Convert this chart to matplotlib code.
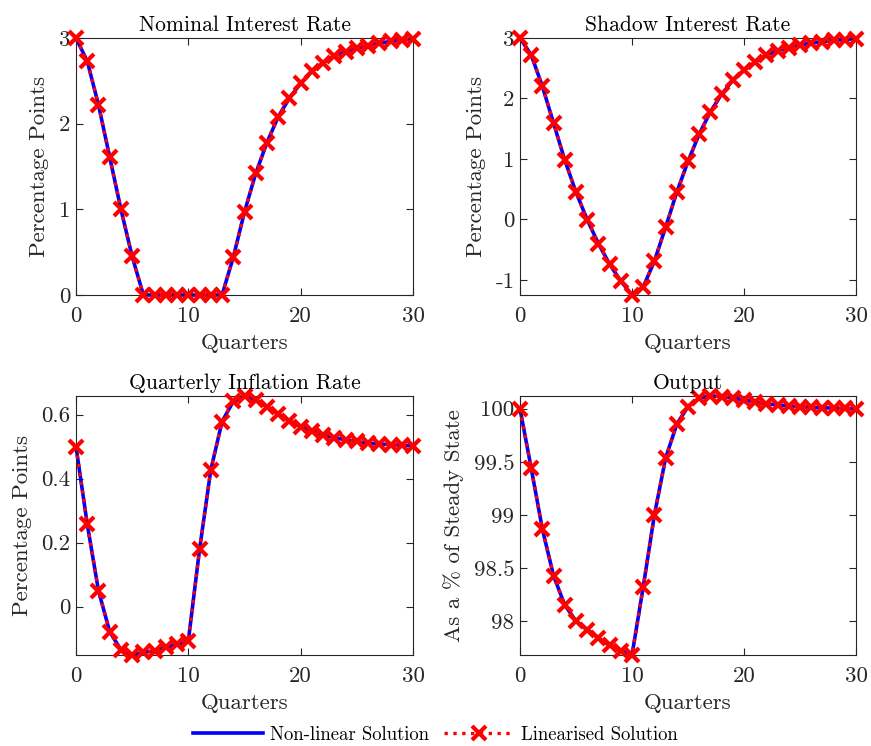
import numpy as np
import matplotlib
matplotlib.use("Agg")
import matplotlib.pyplot as plt

plt.rcParams['font.family'] = 'serif'
plt.rcParams['font.serif'] = ['cmr10', 'DejaVu Serif']
plt.rcParams['mathtext.fontset'] = 'cm'
plt.rcParams['axes.unicode_minus'] = False

quarters = np.arange(31)

# Impulse responses
nominal_rate = [3.00, 2.73, 2.22, 1.61, 1.00, 0.45, 0.0, 0.0, 0.0, 0.0, 0.0,
                0.0, 0.0, 0.0, 0.44, 0.97, 1.42, 1.78, 2.08, 2.30, 2.47,
                2.61, 2.71, 2.79, 2.84, 2.88, 2.91, 2.94, 2.96, 2.975, 2.99]
shadow_rate = [3.00, 2.72, 2.20, 1.59, 0.98, 0.45, -0.005, -0.40, -0.74, -1.02, -1.25,
               -1.12, -0.69, -0.13, 0.45, 0.96, 1.41, 1.78, 2.07, 2.30, 2.47,
               2.60, 2.72, 2.79, 2.84, 2.88, 2.92, 2.94, 2.96, 2.975, 2.99]
inflation = [0.50, 0.258, 0.05, -0.078, -0.135, -0.151, -0.143, -0.1375, -0.127, -0.117, -0.107,
             0.179, 0.427, 0.578, 0.641, 0.658, 0.646, 0.625, 0.602, 0.581, 0.5625,
             0.549, 0.536, 0.528, 0.521, 0.516, 0.51, 0.508, 0.506, 0.504, 0.503]
output = [100.0, 99.44, 98.865, 98.425, 98.15, 98.0, 97.92, 97.84, 97.77, 97.72, 97.68,
          98.32, 99.0, 99.535, 99.855, 100.02, 100.10, 100.12, 100.115, 100.10, 100.085,
          100.063, 100.047, 100.035, 100.025, 100.019, 100.013, 100.009, 100.006, 100.003, 100.0]

# linearised solution coincides with the non-linear one in the picture
nominal_lin = list(nominal_rate)
shadow_lin = list(shadow_rate)
inflation_lin = list(inflation)
output_lin = list(output)

titles = ['Nominal Interest Rate', 'Shadow Interest Rate',
          'Quarterly Inflation Rate', 'Output']
ylabels = ['Percentage Points', 'Percentage Points',
           'Percentage Points', 'As a % of Steady State']
yticks = [[0, 1, 2, 3], [-1, 0, 1, 2, 3], [0, 0.2, 0.4, 0.6],
          [98, 98.5, 99, 99.5, 100]]
ytick_labels = [['0', '1', '2', '3'], ['-1', '0', '1', '2', '3'],
                ['0', '0.2', '0.4', '0.6'], ['98', '98.5', '99', '99.5', '100']]
series = [(nominal_rate, nominal_lin), (shadow_rate, shadow_lin),
          (inflation, inflation_lin), (output, output_lin)]

W, H = 871, 746
fig = plt.figure(figsize=(W / 100, H / 100), dpi=100)

# axes boxes in pixels: left, top, right, bottom
boxes = [(76, 38, 413, 295), (520, 38, 856, 295),
         (76, 396, 413, 655), (520, 396, 856, 655)]

grey = '#262626'
handles = None
for i, (l, t, r, b) in enumerate(boxes):
    ax = fig.add_axes([l / W, 1 - b / H, (r - l) / W, (b - t) / H])
    nl, lin = series[i]
    h1, = ax.plot(quarters, nl, '-', color='#0000ff', lw=2.6, zorder=2,
                  clip_on=False)
    h2, = ax.plot(quarters, lin, ':', color='#ff0000', lw=2.4, marker='x',
                  markersize=10, markeredgewidth=3, zorder=3, clip_on=False)
    handles = (h1, h2)
    lo = min(min(nl), min(lin))
    hi = max(max(nl), max(lin))
    ax.set_xlim(0, 30)
    ax.set_ylim(lo, hi)
    ax.set_xticks([0, 10, 20, 30])
    ax.set_yticks(yticks[i])
    ax.set_yticklabels(ytick_labels[i])
    ax.tick_params(direction='in', top=True, right=True, length=5,
                   width=0.8, colors=grey, labelsize=16.5)
    ax.tick_params(axis='x', pad=8)
    ax.tick_params(axis='y', pad=4)
    for s in ax.spines.values():
        s.set_color(grey)
        s.set_linewidth(0.8)
    ax.set_title(titles[i], fontsize=15.5, color='black', pad=5)
    ax.set_xlabel('Quarters', fontsize=16.5, color=grey, labelpad=6)
    ax.set_ylabel(ylabels[i], fontsize=16.5, color=grey, labelpad=7)

fig.legend(handles, ['Non-linear Solution', 'Linearised Solution'],
           loc='center', bbox_to_anchor=(0.5, 1 - 735 / H), ncol=2,
           frameon=False, fontsize=13.5, handlelength=3.7, columnspacing=0.8,
           handletextpad=0.4)

fig.savefig('out.png', dpi=100)
